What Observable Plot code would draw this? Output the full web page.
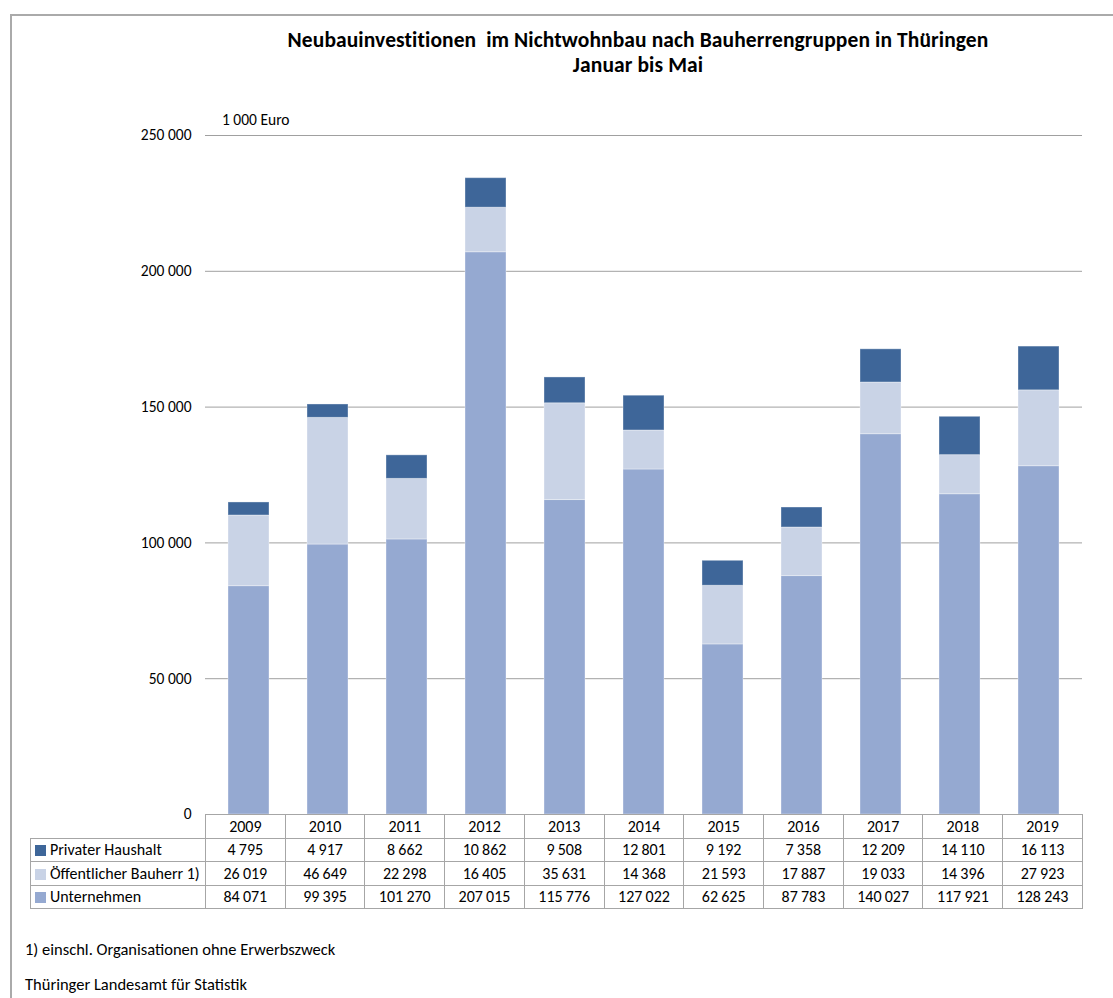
<!DOCTYPE html>
<html>
<head>
<meta charset="utf-8">
<script src="https://cdn.jsdelivr.net/npm/d3@7"></script>
<script src="https://cdn.jsdelivr.net/npm/@observablehq/plot@0.6"></script>
<style>
  html, body { margin: 0; padding: 0; background: #fff; }
  body { font-family: Carlito, Lato, "Open Sans", sans-serif; color: #000; }
  #wrap { position: relative; width: 1113px; height: 998px; overflow: hidden; }
  #frame { position: absolute; left: 10px; top: 14px; width: 1200px; height: 1100px;
           border-left: 2px solid #aaa; border-top: 2px solid #aaa; box-sizing: border-box; }
  #title { position: absolute; left: 205px; width: 866px; top: 28px; text-align: center;
           font-weight: bold; font-size: 21.5px; line-height: 25px; letter-spacing: 0.1px; }
  #unit { position: absolute; left: 222px; top: 110px; font-size: 15.5px; }
  #chart { position: absolute; left: 0; top: 0; }
  #tbl { position: absolute; left: 30px; top: 814px; border-collapse: collapse; table-layout: fixed;
         font-size: 16px; }
  #tbl td { border: 1px solid #a6a6a6; height: 22.5px; padding: 0; text-align: center; white-space: nowrap; overflow: hidden; }
  #tbl td.lab { text-align: left; padding-left: 4px; }
  #tbl td.empty { border: none; border-right: 1px solid #a6a6a6; }
  .sw { display: inline-block; width: 11px; height: 11px; margin-right: 4px; vertical-align: -1px; }
  .note { position: absolute; left: 25px; font-size: 16.5px; }
</style>
</head>
<body>
<div id="wrap">
  <div id="frame"></div>
  <div id="title">Neubauinvestitionen&nbsp; im Nichtwohnbau nach Bauherrengruppen in Thüringen<br>Januar bis Mai</div>
  <div id="unit">1 000 Euro</div>
  <div id="chart"></div>
  <table id="tbl"></table>
  <div class="note" style="top:939px">1) einschl. Organisationen ohne Erwerbszweck</div>
  <div class="note" style="top:974px">Thüringer Landesamt für Statistik</div>
</div>
<script>
const years = ["2009","2010","2011","2012","2013","2014","2015","2016","2017","2018","2019"];
const seriesNames = ["Privater Haushalt", "Öffentlicher Bauherr 1)", "Unternehmen"];
const privater = [4795, 4917, 8662, 10862, 9508, 12801, 9192, 7358, 12209, 14110, 16113];
const oeffentlich = [26019, 46649, 22298, 16405, 35631, 14368, 21593, 17887, 19033, 14396, 27923];
const unternehmen = [84071, 99395, 101270, 207015, 115776, 127022, 62625, 87783, 140027, 117921, 128243];
const yTicks = [0, 50000, 100000, 150000, 200000, 250000];
const colors = {"Unternehmen": "#95a9d1", "Öffentlicher Bauherr 1)": "#c9d3e6", "Privater Haushalt": "#3e6699"};

const fmt = v => d3.format(",")(v).replace(/,/g, "\u2009");
const fmtAxis = v => d3.format(",")(v).replace(/,/g, " ");

const seriesValues = {"Privater Haushalt": privater, "Öffentlicher Bauherr 1)": oeffentlich, "Unternehmen": unternehmen};
const stackOrder = ["Unternehmen", "Öffentlicher Bauherr 1)", "Privater Haushalt"];
const data = [];
for (const s of stackOrder) years.forEach((y, i) => data.push({year: y, series: s, value: seriesValues[s][i]}));

const chart = Plot.plot({
  width: 1113,
  height: 830,
  marginTop: 135,
  marginBottom: 16,
  marginLeft: 205,
  marginRight: 31,
  style: {fontFamily: "Carlito, Lato, 'Open Sans', sans-serif", fontSize: "15.5px", background: "transparent"},
  x: {domain: years, paddingInner: 0.485, paddingOuter: 0.2425, axis: null},
  y: {domain: [0, 250000], ticks: yTicks, tickFormat: fmtAxis, tickSize: 0, tickPadding: 14, label: null},
  color: {domain: stackOrder, range: stackOrder.map(s => colors[s])},
  marks: [
    Plot.ruleY(yTicks, {stroke: "#a0a0a0", strokeWidth: 1}),
    Plot.barY(data, {x: "year", y: "value", fill: "series", order: stackOrder, stroke: "#ffffff", strokeOpacity: 0.35, strokeWidth: 1}),
    Plot.ruleX([0], {x: () => null, frameAnchor: "left", stroke: "#a0a0a0", strokeWidth: 2}),
    Plot.axisY({ticks: yTicks, tickFormat: fmtAxis, tickSize: 0, tickPadding: 14, label: null, fontSize: 15.5})
  ]
});
document.getElementById("chart").appendChild(chart);

// data table
const tbl = document.getElementById("tbl");
const colW = (1082 - 205) / years.length;
let html = `<colgroup><col style="width:175px">${years.map(() => `<col style="width:${colW}px">`).join("")}</colgroup>`;
html += `<tr><td class="empty"></td>${years.map(y => `<td>${y}</td>`).join("")}</tr>`;
for (const s of seriesNames) {
  html += `<tr><td class="lab"><span class="sw" style="background:${colors[s]}"></span>${s}</td>` +
    seriesValues[s].map(v => `<td>${fmt(v)}</td>`).join("") + `</tr>`;
}
tbl.innerHTML = html;
</script>
</body>
</html>
